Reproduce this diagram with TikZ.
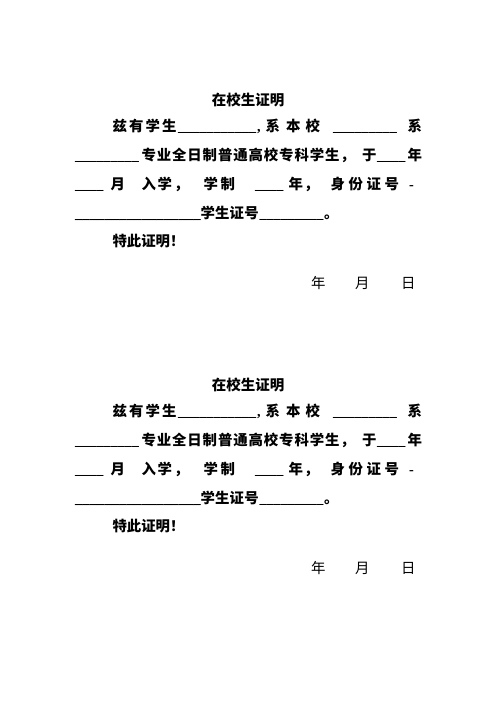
\documentclass[tikz,border=0pt]{standalone}
\usepackage{fontspec}
\newfontfamily\cjkfam{Noto Sans CJK SC}
\newfontfamily\latfam{Liberation Serif}
\newcommand\cjkt{\cjkfam\bfseries\fontsize{14.5}{17}\selectfont}
\newcommand\cjkb{\cjkfam\bfseries\fontsize{14.4}{17}\selectfont}
\newcommand\cjkr{\cjkfam\fontsize{14.4}{17}\selectfont}
\newcommand\latb{\latfam\bfseries\fontsize{14.2}{17}\selectfont}
\newcommand\latw{\latfam\bfseries\fontsize{14.8}{17}\selectfont}
\newcommand\blank[1]{\foreach \k in {1,...,#1}{\_}}
% #1 name prefix, #2 x of first char, #3 baseline y, #4 pitch, #5 chars
\newcommand\charrow[5]{%
  \foreach \c [count=\i] in {#5}{%
    \node[tx] (#1\i) at ({#2+(\i-1)*#4},#3) {\c};}}
\tikzset{
  tx/.style={anchor=base west, inner sep=0pt, outer sep=0pt, font=\cjkb},
  tr/.style={anchor=base west, inner sep=0pt, outer sep=0pt, font=\cjkr},
  ul/.style={anchor=base west, inner sep=0pt, outer sep=0pt, font=\latb},
  ttl/.style={anchor=base, inner sep=0pt, outer sep=0pt, font=\cjkt}
}
\newcommand\certblock[1]{%
  \node[ttl] (title#1) at (248,105.5) {在校生证明};
  % line 1
  \charrow{a#1x}{112.5}{131.5}{16.5}{兹,有,学,生}
  \node[ul] (a5#1) at (178,131.5) {\blank{11}};
  \node[ul] (a6#1) at (257,131.5) {,};
  \node[tx] (a7#1) at (265.5,131.5) {系};
  \node[tx] (a8#1) at (286,131.5) {本};
  \node[tx] (a9#1) at (305.5,131.5) {校};
  \node[ul] (a10#1) at (333,131.5) {\blank{9}};
  \node[tx] (a11#1) at (407.5,131.5) {系};
  % line 2
  \node[ul] (b1#1) at (75,160.5) {\blank{9}};
  \charrow{b#1x}{141.5}{160.5}{15.3}{专,业,全,日,制,普,通,高,校,专,科,学,生,，}
  \node[tx] (b3#1) at (362,160.5) {于};
  \node[ul] (b4#1) at (377,160.5) {\blank{4}};
  \node[tx] (b5#1) at (407.5,160.5) {年};
  % line 3
  \node[ul] (c1#1) at (75,189.5) {\blank{4}};
  \node[tx] (c2#1) at (110.5,189.5) {月};
  \node[tx] (c3#1) at (141.5,189.5) {入};
  \node[tx] (c4#1) at (157.5,189.5) {学};
  \node[tx] (c5#1) at (174,189.5) {，};
  \node[tx] (c6#1) at (203.5,189.5) {学};
  \node[tx] (c7#1) at (220.5,189.5) {制};
  \node[ul] (c8#1) at (255,189.5) {\blank{4}};
  \node[tx] (c9#1) at (288.5,189.5) {年};
  \node[tx] (c10#1) at (304,189.5) {，};
  \node[tx] (c11#1) at (330.5,189.5) {身};
  \node[tx] (c12#1) at (348.5,189.5) {份};
  \node[tx] (c13#1) at (366.5,189.5) {证};
  \node[tx] (c14#1) at (384.5,189.5) {号};
  \node[ul] (c15#1) at (409,189.5) {-};
  % line 4
  \node[ul, font=\latw] (d1#1) at (75,218) {\blank{17}};
  \charrow{d#1x}{200.5}{218}{14.6}{学,生,证,号}
  \node[ul] (d3#1) at (259.5,218) {\blank{9}};
  \node[tx] (d4#1) at (324,218) {。};
  % line 5
  \node[tx] (e1#1) at (112.5,246.5) {特此证明！};
  % date
  \node[tr] (f1#1) at (311,288) {年};
  \node[tr] (f2#1) at (355,288) {月};
  \node[tr] (f3#1) at (401,288) {日};
}
\begin{document}
\begin{tikzpicture}[x=1pt,y=-1pt]
  \fill[white] (0,0) rectangle (496,702);
  \useasboundingbox (0,0) rectangle (496,702);
  \begin{scope}
    \certblock{A}
  \end{scope}
  \begin{scope}[yshift=-285pt]
    \certblock{B}
  \end{scope}
\end{tikzpicture}
\end{document}
